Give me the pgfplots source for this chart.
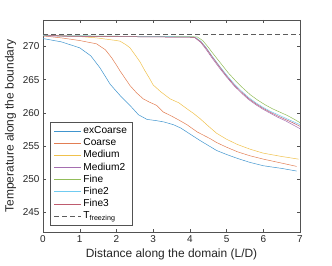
\documentclass[border=0pt]{standalone}
\usepackage{pgfplots}
\pgfplotsset{compat=1.18}
\usepackage{fontspec}
\setmainfont{Liberation Sans}
\definecolor{l1}{rgb}{0.25,0.585,0.806}
\definecolor{l2}{rgb}{0.888,0.494,0.324}
\definecolor{l3}{rgb}{0.943,0.755,0.30}
\definecolor{l4}{rgb}{0.646,0.43,0.69}
\definecolor{l5}{rgb}{0.573,0.74,0.35}
\definecolor{l6}{rgb}{0.44,0.796,0.946}
\definecolor{l7}{rgb}{0.745,0.355,0.43}
\definecolor{axgray}{rgb}{0.15,0.15,0.15}
\begin{document}
\begin{tikzpicture}
\begin{axis}[
  scale only axis, width=257bp, height=212bp,
  xmin=0, xmax=7, ymin=242, ymax=274,
  xtick={0,1,...,7}, ytick={245,250,...,270},
  tick align=inside, major tick length=3bp,
  axis line style={axgray!80, line width=0.5pt},
  tick style={axgray!80, line width=0.4pt},
  every tick label/.append style={font=\fontsize{10}{12}\selectfont, text=axgray},
  /pgf/number format/assume math mode=true,
  xlabel={Distance along the domain (L/D)},
  ylabel={Temperature along the boundary},
  label style={font=\fontsize{12}{14}\selectfont, text=axgray},
  xlabel style={yshift=1bp},
  legend style={at={(0.027,0.033)}, anchor=south west, draw=axgray!80, font=\fontsize{10.2}{11}\selectfont, row sep=-0.6pt, inner xsep=3.5pt, inner ysep=2.5pt},
  legend cell align=left,
  legend image code/.code={\draw[mark repeat=2,mark phase=2,line width=0.85pt,#1] plot coordinates {(0bp,0bp) (13.5bp,0bp) (27bp,0bp)};},
  every axis plot/.append style={line width=0.5pt},
]
\addplot[color=l1] coordinates {(0,271.2)(0.5,270.7)(1.0,269.8)(1.3,268.6)(1.55,266.8)(1.83,264.3)(2.1,262.6)(2.37,261.1)(2.6,259.7)(2.83,259.0)(3.1,258.8)(3.3,258.6)(3.55,258.2)(3.75,257.7)(4.0,256.8)(4.28,255.8)(4.55,254.9)(4.73,254.3)(5.0,253.7)(5.3,253.1)(5.64,252.5)(6.0,252.0)(6.5,251.6)(6.91,251.2)};
\addlegendentry{exCoarse}
\addplot[color=l2] coordinates {(0,271.6)(0.5,271.3)(1.0,270.9)(1.46,270.4)(1.7,269.5)(1.87,268.3)(2.0,267.2)(2.1,266.3)(2.37,264.1)(2.55,263.0)(2.73,262.1)(2.9,261.6)(3.1,261.1)(3.28,260.1)(3.5,259.5)(3.7,258.9)(3.92,258.2)(4.2,257.1)(4.55,256.1)(4.73,255.5)(5.0,254.8)(5.3,254.1)(5.64,253.5)(6.0,253.0)(6.5,252.4)(6.91,251.9)};
\addlegendentry{Coarse}
\addplot[color=l3] coordinates {(0,271.7)(1.0,271.5)(1.46,271.3)(2.0,270.9)(2.1,270.8)(2.25,270.3)(2.37,269.8)(2.5,268.8)(2.64,267.7)(2.78,266.3)(2.9,265.2)(3.0,264.2)(3.2,263.2)(3.46,262.1)(3.7,261.5)(3.92,260.6)(4.1,259.9)(4.28,259.1)(4.5,258.0)(4.73,256.9)(5.0,256.0)(5.3,255.2)(5.64,254.5)(6.0,253.9)(6.5,253.4)(6.96,253.0)};
\addlegendentry{Medium}
\addplot[color=l4] coordinates {(0,271.6)(0.5,271.55)(1,271.5)(2,271.5)(3,271.45)(4,271.4)(4.13,271.35)(4.3,270.6)(4.45,269.5)(4.6,268.3)(4.8,266.8)(5.0,265.4)(5.2,264.1)(5.4,263.0)(5.6,262.0)(5.8,261.2)(6.0,260.5)(6.2,259.9)(6.4,259.3)(6.6,258.8)(6.8,258.2)(7.0,257.6)};
\addlegendentry{Medium2}
\addplot[color=l5] coordinates {(0,271.7)(0.5,271.6)(1,271.6)(2,271.55)(3,271.5)(4,271.5)(4.2,271.45)(4.35,270.9)(4.5,269.9)(4.65,268.8)(4.85,267.4)(5.05,266.0)(5.25,264.8)(5.45,263.7)(5.65,262.7)(5.85,261.9)(6.05,261.2)(6.25,260.6)(6.45,260.1)(6.65,259.6)(6.85,259.0)(7.0,258.5)};
\addlegendentry{Fine}
\addplot[color=l6] coordinates {(0,271.7)(0.5,271.6)(1,271.6)(2,271.55)(3,271.5)(4,271.45)(4.15,271.4)(4.3,270.8)(4.45,269.8)(4.6,268.6)(4.8,267.1)(5.0,265.7)(5.2,264.4)(5.4,263.3)(5.6,262.3)(5.8,261.5)(6.0,260.8)(6.2,260.2)(6.4,259.7)(6.6,259.2)(6.8,258.7)(7.0,258.2)};
\addlegendentry{Fine2}
\addplot[color=l7] coordinates {(0,271.75)(0.5,271.6)(1,271.55)(2,271.5)(3,271.45)(4,271.4)(4.14,271.35)(4.3,270.7)(4.45,269.7)(4.6,268.5)(4.8,267.0)(5.0,265.55)(5.2,264.25)(5.4,263.15)(5.6,262.15)(5.8,261.35)(6.0,260.65)(6.2,260.05)(6.4,259.5)(6.6,259.0)(6.8,258.5)(7.0,257.95)};
\addlegendentry{Fine3}
\addplot[color=axgray!75, dashed, dash pattern=on 5bp off 3bp] coordinates {(0,271.8)(7,271.8)};
\addlegendentry{T\textsubscript{freezing}}
\end{axis}
\pgfresetboundingbox
\path ([shift={(-43bp,-34bp)}]current axis.south west) rectangle ([shift={(32bp,20bp)}]current axis.north east);
\end{tikzpicture}
\end{document}
